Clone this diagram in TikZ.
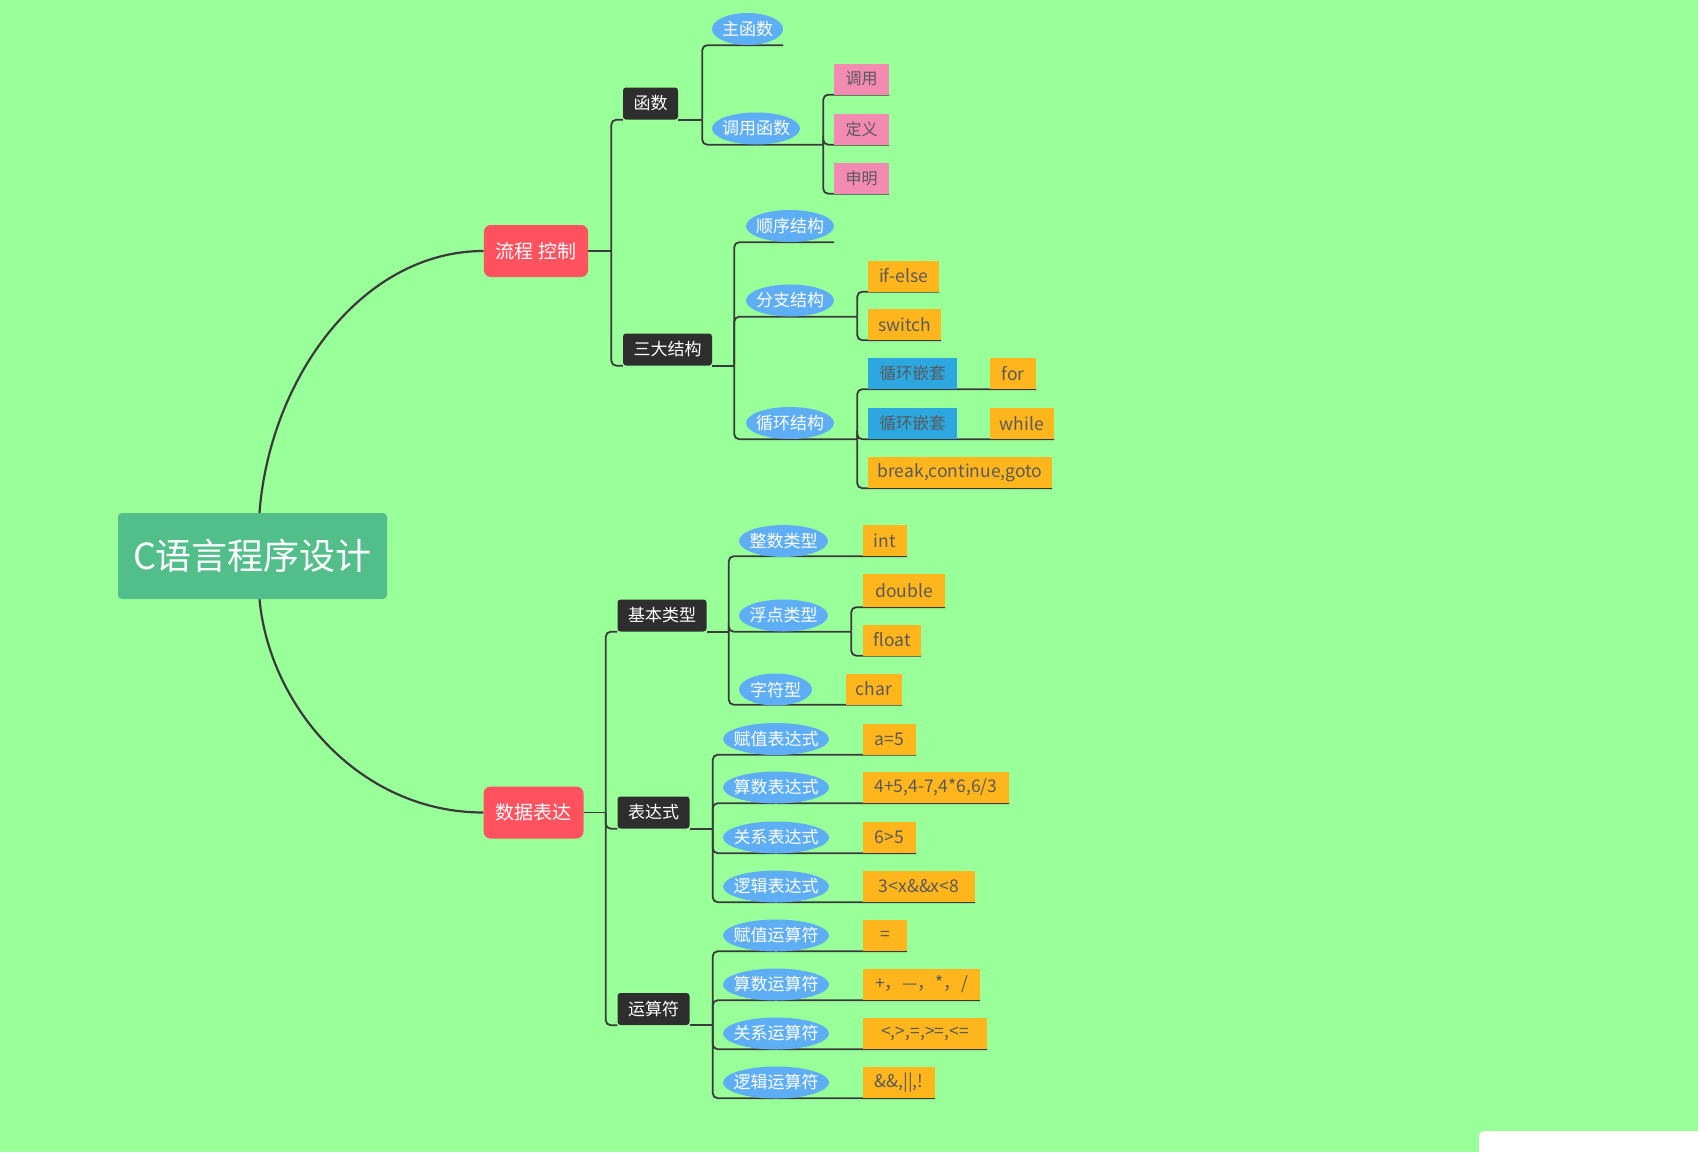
\documentclass[tikz,border=0pt]{standalone}
\usepackage{fontspec}
\newfontfamily\cjk{Noto Sans CJK SC}
\usetikzlibrary{shapes.geometric,backgrounds,calc}

\definecolor{bggreen}{HTML}{99FF99}
\definecolor{rootgreen}{HTML}{52BF8A}
\definecolor{mainred}{HTML}{FF525E}
\definecolor{subdark}{HTML}{2E2E2E}
\definecolor{topicblue}{HTML}{5EAEF5}
\definecolor{leafpink}{HTML}{F28AB2}
\definecolor{leaforange}{HTML}{FFB51C}
\definecolor{leafblue}{HTML}{2CA7E0}
\definecolor{leaftext}{HTML}{5A5A5A}
\definecolor{linkgray}{HTML}{3A3A3A}

\begin{document}
\begin{tikzpicture}[x=1pt, y=-1pt,
    rootbox/.style={rectangle, fill=rootgreen, rounded corners=4pt, text=white,
                    minimum width=269pt, minimum height=86pt,
                    font=\cjk\fontsize{36}{40}\selectfont},
    mainbox/.style={rectangle, fill=mainred, rounded corners=7pt, text=white,
                    minimum height=52pt, inner xsep=12pt,
                    font=\cjk\fontsize{19}{22}\selectfont},
    subbox/.style={rectangle, fill=subdark, rounded corners=3pt, text=white,
                   minimum height=32pt, inner xsep=10.5pt,
                   font=\cjk\fontsize{17}{20}\selectfont},
    topic/.style={ellipse, fill=topicblue, text=white, inner xsep=-10pt, inner ysep=0pt,
                  minimum height=32pt, minimum width=#1,
                  font=\cjk\fontsize{17}{20}\selectfont},
    topic/.default=88pt,
    leaf/.style={rectangle, text=leaftext, minimum height=31pt, inner xsep=0pt,
                 font=\cjk\fontsize{17.5}{20}\selectfont},
    pinkleaf/.style={leaf, fill=leafpink, font=\cjk\fontsize{16}{19}\selectfont},
    orleaf/.style={leaf, fill=leaforange},
    blueleaf/.style={leaf, fill=leafblue, font=\cjk\fontsize{16.5}{19}\selectfont},
    link/.style={draw=linkgray, line width=1.8pt, rounded corners=5pt},
    rootlink/.style={draw=linkgray, line width=2.2pt},
]
\useasboundingbox (0,0) rectangle (1698,1152);

% root and main topics
\node[rootbox] (root) at (252.5,556) {C语言程序设计};
\node[mainbox] (lc) at (536,251) {流程 控制};
\node[mainbox] (sj) at (533.5,812.5) {数据表达};

% second level
\node[subbox] (hs) at (650.5,103.5) {函数};
\node[subbox] (sd) at (667.5,349.5) {三大结构};
\node[subbox] (jb) at (662,615.5) {基本类型};
\node[subbox] (bd) at (653.5,812.5) {表达式};
\node[subbox] (ys) at (653.5,1009) {运算符};

% 函数
\node[topic=71pt] (zhs) at (747.5,29) {主函数};
\node[topic] (dyhs) at (756,128.5) {调用函数};
\node[pinkleaf, minimum width=55pt] (dy) at (861.5,79) {调用};
\node[pinkleaf, minimum width=55pt] (dingyi) at (861.5,129) {定义};
\node[pinkleaf, minimum width=55pt] (sm) at (861.5,178) {申明};

% 三大结构
\node[topic] (sx) at (790,226) {顺序结构};
\node[topic] (fz) at (790,300.5) {分支结构};
\node[topic] (xh) at (790,423) {循环结构};
\node[orleaf, minimum width=71pt] (ifelse) at (903.5,276) {if-else};
\node[orleaf, minimum width=73pt] (sw) at (904.5,324.5) {switch};
\node[blueleaf, minimum width=89pt] (qt1) at (912.5,373.5) {循环嵌套};
\node[blueleaf, minimum width=89pt] (qt2) at (912.5,423.5) {循环嵌套};
\node[orleaf, minimum width=46pt] (for) at (1013,373.5) {for};
\node[orleaf, minimum width=64pt] (wh) at (1022,423.5) {while};
\node[orleaf, minimum width=184pt] (brk) at (960,472.5) {break,continue,goto};

% 基本类型
\node[topic=89pt] (zs) at (783.5,541) {整数类型};
\node[topic=89pt] (fd) at (783.5,615.5) {浮点类型};
\node[topic=73pt] (zf) at (775.5,689.5) {字符型};
\node[orleaf, minimum width=44pt] (int) at (885,540.5) {int};
\node[orleaf, minimum width=82pt, minimum height=33pt] (dbl) at (904,590.5) {double};
\node[orleaf, minimum width=58pt] (flt) at (892,640) {float};
\node[orleaf, minimum width=56pt] (chr) at (874,689) {char};

% 表达式
\node[topic=106pt] (fzbd) at (776,739) {赋值表达式};
\node[topic=106pt] (ssbd) at (776,787.5) {算数表达式};
\node[topic=106pt] (gxbd) at (776,837.5) {关系表达式};
\node[topic=106pt] (ljbd) at (776,886.5) {逻辑表达式};
\node[orleaf, minimum width=53pt] (e1) at (889.5,739) {a=5};
\node[orleaf, minimum width=146pt] (e2) at (936,787.5) {4+5,4-7,4*6,6/3};
\node[orleaf, minimum width=53pt] (e3) at (889.5,837.5) {6>5};
\node[orleaf, minimum width=112pt] (e4) at (919,886.5) {3<x\&\&x<8};

% 运算符
\node[topic=106pt] (fzys) at (776,935.5) {赋值运算符};
\node[topic=106pt] (ssys) at (776,984.5) {算数运算符};
\node[topic=106pt] (gxys) at (776,1033.5) {关系运算符};
\node[topic=106pt] (ljys) at (776,1082.5) {逻辑运算符};
\node[orleaf, minimum width=44pt] (o1) at (885,935.5) {=};
\node[orleaf, minimum width=117pt] (o2) at (921.5,984.5) {+，—，*，/};
\node[orleaf, minimum width=124pt] (o3) at (925,1033.5) {<,>,=,>=,<=};
\node[orleaf, minimum width=72pt] (o4) at (899,1082.5) {\&\&,||,!};

% corner panel
\fill[white, rounded corners=5pt] (1479,1131) rectangle (1720,1180);

\begin{pgfonlayer}{background}
\fill[bggreen] (0,0) rectangle (1698,1152);

% root links
\draw[rootlink] ([xshift=7pt]root.north) .. controls +(10,-133) and +(-123,0) .. (lc.west);
\draw[rootlink] ([xshift=7pt]root.south) .. controls +(10,108) and +(-123,0) .. (sj.west);

% 流程控制
\draw[link] (lc.east) -- ++(23,0) coordinate (t0);
\foreach \c in {hs,sd} \draw[link] (t0) |- (\c.south west);

\draw[link] (hs.south east) -- ++(24,0) coordinate (t1);
\draw[link] (t1) |- (zhs.south -| zhs.east);
\draw[link] (t1) |- (dyhs.south -| dyhs.east) -- ++(23,0) coordinate (t2);
\foreach \c in {dy,dingyi,sm} \draw[link] (t2) |- (\c.south east);

\draw[link] (sd.south east) -- ++(22,0) coordinate (t3);
\draw[link] (t3) |- (sx.south -| sx.east);
\draw[link] (t3) |- (fz.south -| fz.east) -- ++(23,0) coordinate (t3a);
\draw[link] (t3) |- (xh.south -| xh.east) -- ++(23,0) coordinate (t3b);
\foreach \c in {ifelse,sw} \draw[link] (t3a) |- (\c.south east);
\foreach \c in {for,wh,brk} \draw[link] (t3b) |- (\c.south east);

% 数据表达
\draw[link] (sj.east) -- ++(22,0) coordinate (t4);
\foreach \c in {jb,bd,ys} \draw[link] (t4) |- (\c.south west);

\draw[link] (jb.south east) -- ++(22,0) coordinate (t5);
\draw[link] (t5) |- (int.south east);
\draw[link] (t5) |- (fd.south -| fd.east) -- ++(23,0) coordinate (t5a);
\draw[link] (t5) |- (chr.south east);
\foreach \c in {dbl,flt} \draw[link] (t5a) |- (\c.south east);

\draw[link] (bd.south east) -- ++(23,0) coordinate (t6);
\foreach \c in {e1,e2,e3,e4} \draw[link] (t6) |- (\c.south east);

\draw[link] (ys.south east) -- ++(23,0) coordinate (t7);
\foreach \c in {o1,o2,o3,o4} \draw[link] (t7) |- (\c.south east);
\end{pgfonlayer}

\end{tikzpicture}
\end{document}
